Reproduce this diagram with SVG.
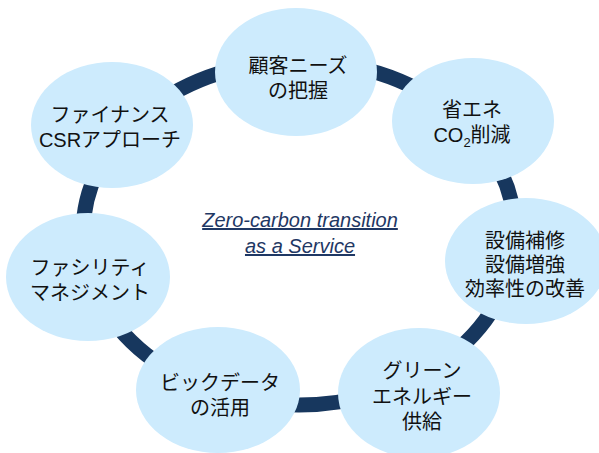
<svg xmlns="http://www.w3.org/2000/svg" width="599" height="453" viewBox="0 0 599 453">
<style>
.ring{fill:none;stroke:#17375e;stroke-width:15}
.node{fill:#cdebfd;stroke:none}
.lbl{font-family:"Liberation Sans","Noto Sans CJK JP",sans-serif;font-size:20px;fill:#111;text-anchor:middle}
.ctr{font-family:"Liberation Sans","Noto Sans CJK JP",sans-serif;font-size:20px;font-style:italic;fill:#1f3864;text-anchor:middle;text-decoration:underline}
</style>
<rect width="599" height="453" fill="#fff"/>
<g id="connectors">
<ellipse class="ring" cx="299" cy="233" rx="216" ry="172"/>
</g>
<g id="node-needs">
<ellipse class="node" cx="296" cy="72" rx="81" ry="64"/>
<text class="lbl" x="298" y="73">顧客ニーズ</text>
<text class="lbl" x="298" y="98">の把握</text>
</g>
<g id="node-energy-saving">
<ellipse class="node" cx="473" cy="121" rx="81" ry="63"/>
<text class="lbl" x="472" y="117">省エネ</text>
<text class="lbl" x="472" y="142">CO<tspan font-size="13" dy="5">2</tspan><tspan dy="-5">削減</tspan></text>
</g>
<g id="node-equipment">
<ellipse class="node" cx="526" cy="261" rx="81" ry="63"/>
<text class="lbl" x="525" y="248">設備補修</text>
<text class="lbl" x="525" y="272">設備増強</text>
<text class="lbl" x="525" y="296">効率性の改善</text>
</g>
<g id="node-green">
<ellipse class="node" cx="419" cy="393" rx="81" ry="65"/>
<text class="lbl" x="422" y="378">グリーン</text>
<text class="lbl" x="422" y="404">エネルギー</text>
<text class="lbl" x="422" y="429">供給</text>
</g>
<g id="node-bigdata">
<ellipse class="node" cx="218" cy="390" rx="82" ry="63"/>
<text class="lbl" x="220" y="390">ビックデータ</text>
<text class="lbl" x="220" y="415">の活用</text>
</g>
<g id="node-facility">
<ellipse class="node" cx="88" cy="277" rx="82" ry="64"/>
<text class="lbl" x="90" y="275">ファシリティ</text>
<text class="lbl" x="90" y="300">マネジメント</text>
</g>
<g id="node-finance">
<ellipse class="node" cx="112" cy="125" rx="81" ry="63"/>
<text class="lbl" x="110" y="122">ファイナンス</text>
<text class="lbl" x="110" y="147">CSRアプローチ</text>
</g>
<g id="center-label">
<text class="ctr" x="300" y="227">Zero-carbon transition </text>
<text class="ctr" x="300" y="253">as a Service</text>
</g>
</svg>
